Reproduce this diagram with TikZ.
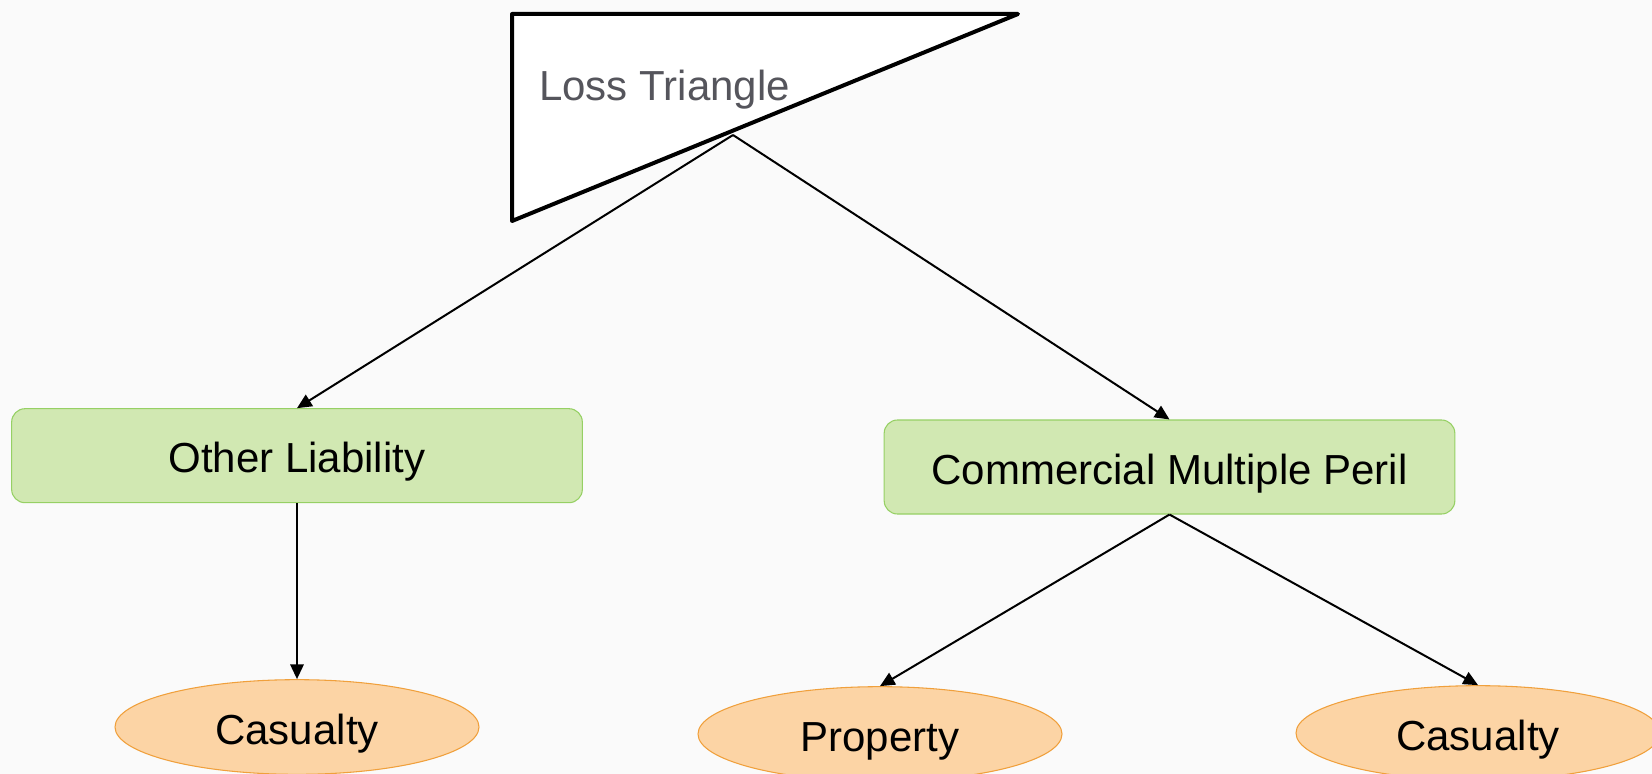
\documentclass[tikz,border=0pt]{standalone}
\usepackage{fontspec}
\setmainfont{Liberation Sans}
\usetikzlibrary{shapes.geometric,arrows.meta}
\definecolor{bg}{RGB}{250,250,250}
\definecolor{boxfill}{RGB}{209,232,178}
\definecolor{boxline}{RGB}{150,208,100}
\definecolor{ovalfill}{RGB}{252,212,165}
\definecolor{ovalline}{RGB}{240,160,60}
\definecolor{titlegray}{RGB}{85,85,92}
\tikzset{
  label font/.style={font=\fontsize{31.5}{37}\selectfont, text height=25.5pt, text depth=0pt, inner sep=0pt},
  category/.style={label font, draw=boxline, line width=0.8pt, fill=boxfill, rounded corners=10pt,
    minimum width=428pt, minimum height=70.5pt},
  leaf/.style={label font, ellipse, draw=ovalline, line width=0.8pt, fill=ovalfill,
    minimum width=273pt, minimum height=71pt},
  link/.style={line width=1.5pt, -{Triangle[length=11pt, width=10pt]}}
}
\begin{document}
\begin{tikzpicture}[x=0.75pt, y=-0.75pt]
\fill[bg] (0,0) rectangle (1652,774);
\useasboundingbox (0,0) rectangle (1652,774);
\clip (0,0) rectangle (1652,774);

% root: a right triangle with its label
\draw[line width=3pt, line join=round, fill=white] (512,14) -- (1018,14) -- (512,221) -- cycle;
\node[font=\fontsize{31.5}{37}\selectfont, text=titlegray, inner sep=0pt, anchor=base west] (title) at (539,100) {Loss Triangle};
\coordinate (root) at (733,135);

% lines of business
\node[category] (ol) at (297,455.7) {Other Liability};
\node[category] (cmp) at (1169.5,467) {Commercial Multiple Peril};

% perils
\node[leaf] (cas1) at (297,727) {Casualty};
\node[leaf] (prop) at (880,734) {Property};
\node[leaf] (cas2) at (1478,733) {Casualty};

% connectors
\draw[link] (root) -- (ol.north);
\draw[link] (root) -- (cmp.north);
\draw[link] (ol.south) -- (cas1.north);
\draw[link] (cmp.south) -- (prop.north);
\draw[link] (cmp.south) -- (cas2.north);
\end{tikzpicture}
\end{document}
